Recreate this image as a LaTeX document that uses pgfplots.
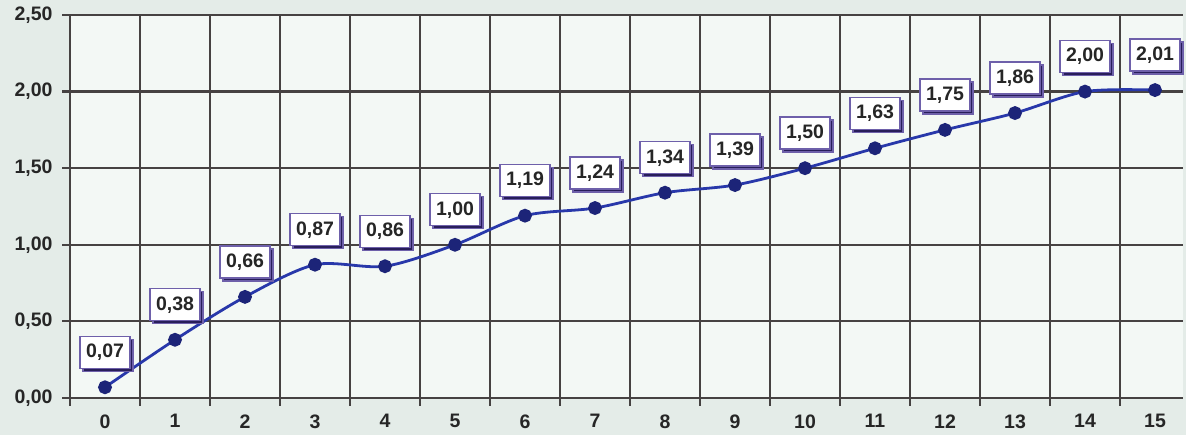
\documentclass[border=0pt]{standalone}
\usepackage{fontspec}
\setmainfont{Liberation Sans}
\usepackage{pgfplots}
\pgfplotsset{compat=1.18}
\usetikzlibrary{shadows}

\definecolor{pagebg}{RGB}{228,236,232}
\definecolor{plotbg}{RGB}{243,248,245}
\definecolor{gridc}{RGB}{70,66,66}
\definecolor{linec}{RGB}{40,56,170}
\definecolor{markc}{RGB}{28,36,120}
\definecolor{boxc}{RGB}{110,96,170}
\definecolor{shadc}{RGB}{40,30,90}

\pgfkeys{/pgf/number format/commafmt/.style={/pgf/number format/fixed,
  /pgf/number format/fixed zerofill, /pgf/number format/precision=2,
  /pgf/number format/use comma, /pgf/number format/assume math mode=true}}

\begin{document}
\begin{tikzpicture}
  \path[use as bounding box, fill=pagebg] (0,0) rectangle (1186pt,435pt);
  \begin{axis}[
      at={(70pt,37pt)}, anchor=south west,
      scale only axis,
      width=1113pt, height=383pt,
      xmin=-0.5, xmax=15.4,
      ymin=0, ymax=2.5,
      axis background/.style={fill=plotbg},
      axis line style={draw=gridc, line width=2.2pt},
      xtick={0,...,15},
      xticklabels={0,1,2,3,4,5,6,7,8,9,10,11,12,13,14,15},
      minor xtick={-0.5,0.5,...,14.5},
      xminorgrids=true,
      major tick length=0pt,
      minor tick length=8pt,
      tick align=outside,
      ytick={0,0.5,...,2.5},
      ymajorgrids=true,
      ytick style={draw=gridc, line width=2.2pt, /pgfplots/major tick length=8pt},
      minor tick style={draw=gridc, line width=2.2pt},
      grid style={draw=gridc, line width=2.2pt},
      minor grid style={draw=gridc, line width=2.2pt},
      axis x line*=bottom, axis y line*=left,
      tick label style={font=\bfseries\fontsize{19.5}{19.5}\selectfont, text=black!85,
        /pgf/number format/assume math mode=true},
      xticklabel style={yshift=-13pt},
      yticklabel style={xshift=-14pt, /pgf/number format/commafmt},
      nodes near coords,
      every node near coord/.append style={/pgf/number format/commafmt,
        anchor=center, yshift=35pt,
        font=\bfseries\fontsize{19.5}{19.5}\selectfont, text=black!85,
        fill=white, draw=boxc, line width=1.4pt,
        inner sep=0pt, minimum width=50pt, minimum height=32pt,
        drop shadow={shadow xshift=3pt, shadow yshift=-3pt, fill=shadc, opacity=1}},
      clip=false,
    ]
    \addplot[smooth, color=linec, line width=2.8pt,
      mark=*, mark size=5.5pt, mark options={fill=markc, draw=markc}] coordinates {
      (0,0.07) (1,0.38) (2,0.66) (3,0.87) (4,0.86) (5,1.00) (6,1.19) (7,1.24)
      (8,1.34) (9,1.39) (10,1.50) (11,1.63) (12,1.75) (13,1.86) (14,2.00) (15,2.01)
    };
  \end{axis}
\end{tikzpicture}
\end{document}
